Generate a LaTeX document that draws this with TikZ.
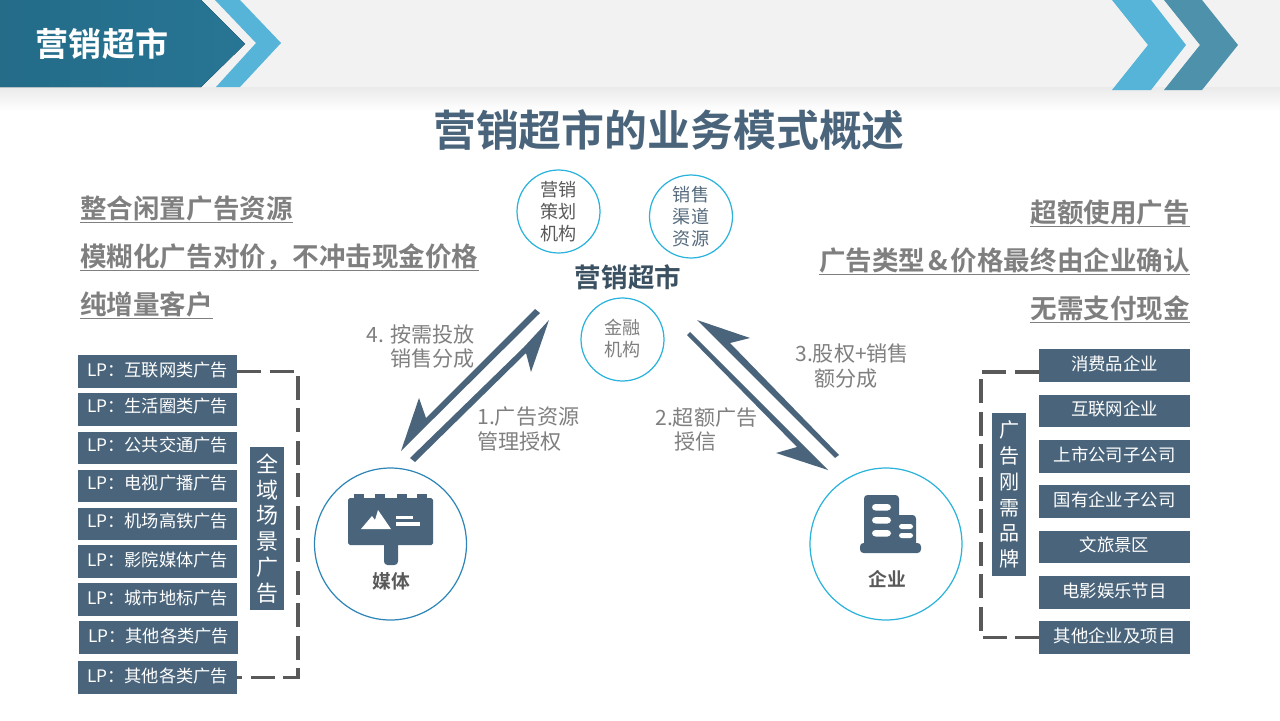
\documentclass[tikz,border=0pt]{standalone}
\usepackage{fontspec}
\setmainfont{Noto Sans CJK SC}[BoldFont={Noto Sans CJK SC Bold}]
\usetikzlibrary{positioning}

\definecolor{boxblue}{HTML}{4A657B}
\definecolor{bandgray}{HTML}{F2F2F2}
\definecolor{headblue}{HTML}{277594}
\definecolor{lightblue}{HTML}{55B4D8}
\definecolor{midblue}{HTML}{4E91AB}
\definecolor{ringblue}{HTML}{2BB3DC}
\definecolor{mediablue}{HTML}{2E86B8}
\definecolor{textgray}{HTML}{7F7F7F}
\definecolor{dashgray}{HTML}{595959}

\newcommand{\fsz}[2]{\fontsize{#1}{#2}\selectfont\lineskiplimit=-20pt\relax}

\tikzset{
	lpbox/.style={fill=boxblue, text=white, inner sep=0pt, minimum width=3.18cm, minimum height=0.65cm, text height=0.26cm, text depth=0.076cm, font=\fsz{9.8}{12}},
	lpraised/.style={text depth=0.14cm},
	firmbox/.style={fill=boxblue, text=white, inner sep=0pt, minimum width=3.02cm, minimum height=0.65cm, text height=0.26cm, text depth=0.076cm, font=\fsz{9.9}{12}},
	sidebox/.style={fill=boxblue, text=white, inner sep=0pt, minimum width=0.68cm, minimum height=3.26cm, align=center},
	headtext/.style={inner sep=0pt, text=textgray, text height=0.44cm, text depth=0.08cm, font=\fsz{15.1}{18}\bfseries},
	headline/.style={textgray, line width=0.8pt},
	ring/.style={circle, draw=ringblue, line width=0.7pt, inner sep=0pt, minimum size=1.66cm, align=center, font=\fsz{10.3}{12.4}},
	bigring/.style={circle, line width=0.7pt, inner sep=0pt, minimum size=3.04cm},
	flowlabel/.style={inner sep=0pt, text=textgray, align=left, font=\fsz{12}{13.7}},
	flowarrow/.style={fill=boxblue},
	iconlabel/.style={inner sep=0pt, text=dashgray, font=\fsz{10.7}{13}\bfseries},
	bracket/.style={dashgray, line width=1.9pt, dash pattern=on 0.48cm off 0.17cm}
}

\begin{document}
\begin{tikzpicture}[x=0.02cm, y=-0.02cm]
	\useasboundingbox (0, 0) rectangle (1280, 720);

	% top band
	\fill[bandgray] (0, 0) rectangle (1280, 87);
	\shade[top color=black!8, bottom color=white] (0, 87) rectangle (1280, 111);

	\fill[left color=headblue!92!black, right color=headblue] (0, 0) -- (201, 0) -- (245, 44) -- (201, 87) -- (0, 87) -- cycle;
	\fill[lightblue] (215, 0) -- (240, 0) -- (281, 43) -- (240, 87) -- (216, 87) -- (256, 43) -- cycle;
	\fill[lightblue] (1112, 0) -- (1151, 0) -- (1186, 45) -- (1151, 90) -- (1112, 90) -- (1148, 45) -- cycle;
	\fill[midblue] (1164, 0) -- (1202, 0) -- (1238, 45) -- (1202, 90) -- (1164, 90) -- (1200, 45) -- cycle;

	\node[inner sep=0pt, text=white, font=\fsz{18.8}{20}\bfseries] (pagetitle) at (102, 44) {营销超市};
	\node[inner sep=0pt, text=boxblue, font=\fsz{24.4}{28}\bfseries] (maintitle) at (669, 130) {营销超市的业务模式概述};

	% headings left and right
	\node[headtext, anchor=west] (hl1) at (80, 209) {整合闲置广告资源};
	\node[headtext, anchor=west] (hl2) at (80, 257) {模糊化广告对价，不冲击现金价格};
	\node[headtext, anchor=west] (hl3) at (80, 305) {纯增量客户};
	\node[headtext, anchor=east] (hr1) at (1190, 213) {超额使用广告};
	\node[headtext, anchor=east] (hr2) at (1190, 261) {广告类型\hspace{0.06cm}\&\hspace{0.06cm}价格最终由企业确认};
	\node[headtext, anchor=east] (hr3) at (1190, 309) {无需支付现金};
	\foreach \h in {hl1, hl2, hl3, hr1, hr2, hr3}
		\draw[headline] (\h.south west) -- (\h.south east);

	% left column
	\node[lpbox] (lp1) at (157.5, 371.5) {LP：互联网类广告};
	\node[lpbox, lpraised] (lp2) at (157.5, 409.5) {LP：生活圈类广告};
	\node[lpbox, lpraised] (lp3) at (157.5, 448) {LP：公共交通广告};
	\node[lpbox, lpraised] (lp4) at (157.5, 486) {LP：电视广播广告};
	\node[lpbox, lpraised] (lp5) at (157.5, 524) {LP：机场高铁广告};
	\node[lpbox] (lp6) at (157.5, 561.5) {LP：影院媒体广告};
	\node[lpbox] (lp7) at (157.5, 599.5) {LP：城市地标广告};
	\node[lpbox] (lp8) at (158.5, 637.5) {LP：其他各类广告};
	\node[lpbox] (lp9) at (157.5, 677.5) {LP：其他各类广告};
	\node[sidebox, font=\fsz{12.5}{14.7}] (scene) at (267, 528.5) {全\\域\\场\\景\\广\\告};
	\coordinate (leftcorner) at (298, 371.5);
	\draw[bracket] (lp1.east) -- (leftcorner) -- (leftcorner |- lp9.east) -- (lp9.east);

	% right column
	\node[firmbox] (firm1) at (1114.5, 365.5) {消费品企业};
	\node[firmbox] (firm2) at (1114.5, 411) {互联网企业};
	\node[firmbox] (firm3) at (1114.5, 456.5) {上市公司子公司};
	\node[firmbox] (firm4) at (1114.5, 501.5) {国有企业子公司};
	\node[firmbox] (firm5) at (1114.5, 547) {文旅景区};
	\node[firmbox] (firm6) at (1114.5, 592.5) {电影娱乐节目};
	\node[firmbox] (firm7) at (1114.5, 637.5) {其他企业及项目};
	\node[sidebox, font=\fsz{11.4}{14.7}] (brand) at (1009, 494.5) {广\\告\\刚\\需\\品\\牌};
	\coordinate (rightcorner) at (981, 372);
	\draw[bracket] (firm1.west |- rightcorner) -- (rightcorner) -- (rightcorner |- firm7.west) -- (firm7.west);

	% centre
	\node[ring, text=dashgray] (plan) at (558.5, 211.5) {营销\\策划\\机构};
	\node[ring, text=boxblue!80!gray] (channel) at (691, 216.5) {销售\\渠道\\资源};
	\node[ring, text=textgray] (finance) at (622.5, 339.5) {\raisebox{0.06cm}{金融}\\\raisebox{0.06cm}{机构}};
	\node[inner sep=0pt, text=boxblue!80!black, font=\fsz{15.1}{18}\bfseries] (market) at (628, 277) {营销超市};

	\node[bigring, draw=mediablue] (media) at (390.5, 544) {};
	\node[bigring, draw=ringblue] (firm) at (886, 544) {};
	\node[iconlabel] (medialabel) at (391, 581) {媒体};
	\node[iconlabel] (firmlabel) at (887, 579) {企业};

	% half arrows
	\fill[flowarrow] (410, 458) -- (415, 462) -- (526, 353) -- (531, 372) -- (549, 320) -- (524, 347) -- cycle;
	\fill[flowarrow] (535, 309) -- (540, 313) -- (401, 451) -- (419, 398) -- (426, 418) -- cycle;
	\fill[flowarrow] (690, 332) -- (828, 470) -- (776, 453) -- (797, 447) -- (687, 335) -- cycle;
	\fill[flowarrow] (839, 455) -- (835, 458) -- (697, 320) -- (750, 338) -- (730, 343) -- cycle;

	\node[flowlabel, anchor=west] (flow4) at (366, 346.5) {4. 按需投放\\\hspace*{0.48cm}销售分成};
	\node[flowlabel, anchor=west] (flow1) at (477, 429) {1.广告资源\\管理授权};
	\node[flowlabel, anchor=west] (flow2) at (655, 429.5) {2.超额广告\\\hspace*{0.38cm}授信};
	\node[flowlabel, anchor=west] (flow3) at (795, 366) {3.股权+销售\\\hspace*{0.38cm}额分成};

	% billboard
	\foreach \x in {354, 375, 397, 417}
		\fill[boxblue] (\x, 494) rectangle ++(10, 5);
	\fill[boxblue, rounded corners=1pt] (348, 498) rectangle (433, 545);
	\fill[boxblue, rounded corners=2pt] (384, 540) rectangle (398, 565);
	\fill[white] (361, 529) -- (372, 516) -- (375, 520) -- (378, 510) -- (391, 529) -- cycle;
	\fill[white] (396, 516) rectangle (413, 519);
	\fill[white] (396, 522) rectangle (420, 525.5);

	% building
	\fill[boxblue, rounded corners=2pt] (864, 495) rectangle (899, 546);
	\fill[boxblue, rounded corners=2pt] (890, 515) rectangle (916, 546);
	\fill[boxblue, rounded corners=2pt] (860, 543) rectangle (921, 553);
	\foreach \y in {504, 517, 530}
		\fill[white, rounded corners=2pt] (872, \y) rectangle ++(19, 6.5);
	\foreach \y in {524, 533}
		\fill[white, rounded corners=1.5pt] (899, \y) rectangle ++(14, 5);
\end{tikzpicture}
\end{document}
